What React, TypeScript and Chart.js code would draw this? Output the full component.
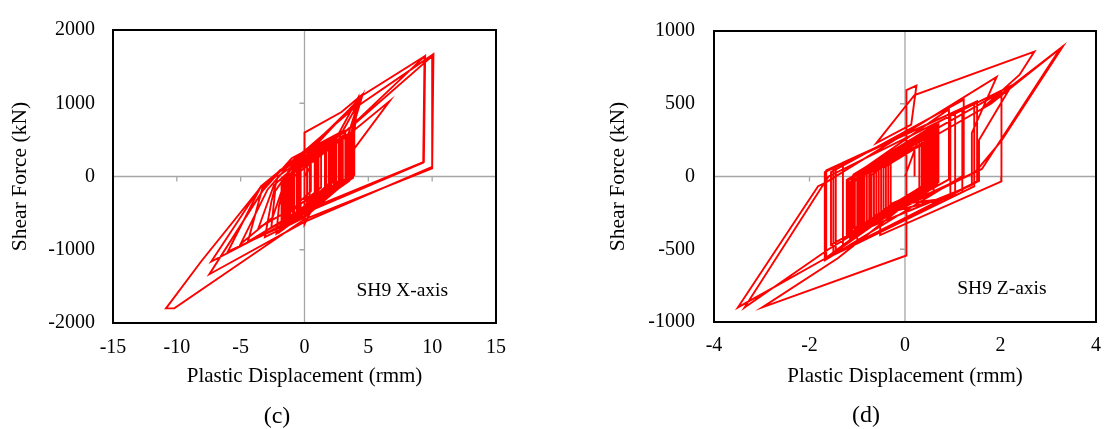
import React, { useEffect, useRef } from "react";
import { Chart, registerables } from "chart.js";

Chart.register(...registerables);

// ---------- tick labels ----------
const xTicksC = [-15, -10, -5, 0, 5, 10, 15];
const yTicksC = [-2000, -1000, 0, 1000, 2000];
const xTicksD = [-4, -2, 0, 2, 4];
const yTicksD = [-1000, -500, 0, 500, 1000];

// ---------- texts ----------
const xTitle = "Plastic Displacement (rmm)";
const yTitle = "Shear Force (kN)";
const labelC = "SH9 X-axis";
const labelD = "SH9 Z-axis";
const captionC = "(c)";
const captionD = "(d)";

// ---------- series: SH9 X-axis (plastic displacement mm, shear force kN) ----------
const sh9XAxis: [number, number][] = [
  [0, 0], [0.5, 150], [0.5, -200], [-0.6, -380], [-0.6, 80],
  [1.3, 300], [1.3, -150], [-1.0, -470], [-1.0, 60],
  [2.1, 430], [2.1, -120], [-0.3, -460], [-0.3, 220],
  [2.7, 500], [2.7, -60], [-1.4, -620], [-1.4, -20],
  [1.7, 380], [1.7, -230], [-1.7, -700], [-1.6, -100],
  [3.3, 560], [3.3, -20], [0.2, -480], [0.2, 280],
  [2.4, 470], [2.4, -160], [-0.8, -560], [-0.8, 120],
  [3.0, 540], [3.0, -100], [-1.2, -640], [-1.2, 30],
  [3.6, 600], [3.6, -30], [-1.8, -740], [-1.8, -60],
  [3.2, 580], [3.2, -90], [-1.1, -600], [-1.1, 20],
  [2.5, 520], [2.5, -140], [-1.6, -690], [-1.6, -40],
  [3.5, 590], [3.5, -50], [-0.4, -520], [-0.4, 190],
  [2.0, 480], [2.0, -200], [-1.3, -660], [-1.3, -10],
  [2.9, 540], [2.9, -60], [-0.9, -560], [-0.9, 90],
  [1.1, 380], [1.1, -270], [-1.7, -720], [-1.7, -80],
  [1.0, 330], [1.0, -300], [0, -650], [0, 600],
  [2.9, 880], [4.6, 1130], [4.45, 1100], [3.6, 560], [3.6, -40], [-1.96, -760], [-1.5, -300], [-1.3, 60],
  [2.6, 560], [4.2, 1074], [3.9, 600], [3.9, 20], [0, -560], [-3.1, -826], [-2.6, -350], [-2.1, 0],
  [1.9, 480], [1.9, -100], [-0.5, -480], [-0.5, 150], [2.3, 450], [2.3, -180], [-4.44, -893], [-3.3, -160], [-1.9, 90],
  [1.4, 420], [3.1, 520], [6.67, 1030], [3.9, 380], [3.6, -10], [0, -540], [-6.0, -1025], [-3.4, -130], [0, 320],
  [3.14, 600], [9.4, 1640], [9.3, 190], [0, -500], [-7.3, -1160], [-3.4, -130], [0, 350],
  [3.66, 900], [10.1, 1670], [10.0, 110], [0, -584], [-10.2, -1800], [-10.85, -1800], [-8.1, -1160], [-3.4, -141], [0, 350],
  [3.4, 640], [10.05, 1650], [10.0, 130], [0, -620], [-7.45, -1334], [-3.3, -200], [-1.0, 250],
  [3.0, 620], [4.5, 1090], [3.5, 500], [3.5, -60], [-0.9, -600], [-0.9, 100], [2.2, 520], [2.2, -80], [-1.5, -650], [-1.5, -50],
  [-2.5, -560], [-5.0, -920], [-2.9, -180], [-1.4, 120], [2.8, 560], [2.8, -120], [-2.2, -780], [-2.0, -400],
  [-1.2, 80], [0.5, 400], [4.3, 1050], [3.4, 560], [3.4, -40], [-0.6, -520], [-0.6, 160], [1.0, 450],
  [4.55, 1110], [9.45, 1645], [9.35, 200], [0, -470], [-2.6, -700], [-2.3, -200], [-0.5, 250], [4.0, 980],
  [3.8, 600], [3.8, -20], [0.9, -300], [0.9, 330],
  [3.7, 600], [3.7, -20], [0.4, -420], [0.4, 300], [1.6, 420], [1.6, -180], [-3.6, -700],
  [-2.4, -120], [0.8, 380], [0.8, -240], [0, -300], [0, 0],
];

// ---------- series: SH9 Z-axis ----------
const sh9ZAxis: [number, number][] = [
  [0, 0], [0.3, 270], [0.3, -110], [-0.4, -250], [-0.4, 130],
  [0.5, 270], [0.5, -90], [-0.6, -310], [-0.6, 50],
  [0.6, 330], [0.6, -40], [-0.8, -320], [-0.8, 50],
  [0.7, 340], [0.7, 0], [-0.5, -240], [-0.5, 100],
  [0.4, 280], [0.4, -100], [-1.0, -380], [-1.0, 0],
  [0.65, 340], [0.65, -20], [-0.9, -330], [-0.9, 30],
  [0.55, 330], [0.55, -60], [-1.1, -390], [-1.1, 0],
  [0.45, 240], [0.45, -110], [-0.7, -340], [-0.7, 10],
  [0.7, 360], [0.7, -20], [-1.2, -400], [-1.2, -20],
  [0.68, 336], [0.68, -54], [-1.1, -390], [-1.1, -10],
  [0.62, 334], [0.62, -46], [-0.95, -340], [-0.95, 20],
  [0.58, 326], [0.58, -34], [-1.18, -416], [-1.18, -26],
  [0.52, 314], [0.52, -76], [-0.75, -310], [-0.75, 40],
  [0.66, 322], [0.66, -28], [-1.05, -410], [-1.05, -30],
  [0.48, 276], [0.48, -104], [-0.65, -270], [-0.65, 70],
  [0.7, 340], [0.7, 0], [-1.12, -384], [-1.12, -4],
  [0.92, 463], [0.92, -20], [-1.55, -470], [-1.55, 30],
  [1.23, 528], [1.23, 8], [-1.68, -576], [-1.68, 30],
  [1.51, 517], [1.51, -34], [-1.0, -450], [-1.0, 20],
  [2.02, 582], [2.02, -34], [-0.52, -403], [-0.52, -300], [0.6, -100], [0.6, 300], [-0.3, 140], [-0.3, -190],
  [0.5, -80], [0.5, 290], [-0.6, 60], [-0.6, -300],
  [-1.68, -565], [-3.5, -900], [-1.82, -67], [-1.68, -45], [1.92, 684], [1.4, 300], [1.4, -60],
  [-0.88, -366], [-0.88, 4], [0.42, 264], [0.42, -106], [-1.22, -414], [-1.22, -24],
  [0.64, 348], [0.64, -42], [-0.55, -260], [-0.55, 80], [0.56, 302], [0.56, -38],
  [-0.85, -340], [-0.85, 30], [0.35, 270], [0.35, -100], [-1.05, -390], [-1.05, 10], [0.7, 360], [0.7, -40],
  [-1.6, -500], [-3.36, -900], [-1.7, -50], [-1.6, 0], [2.23, 625], [1.55, 250], [1.55, -30],
  [-1.45, -532], [-1.45, 72], [1.2, 470], [1.2, -108], [-1.3, -508], [-1.3, 95], [1.05, 447], [1.05, -132],
  [-0.6, -270], [-0.6, 80], [0.6, 320], [0.6, -30], [-1.15, -420], [-1.15, -40], [0.5, 290], [0.5, -90],
  [-0.98, -376], [-0.98, 4], [0.7, 340], [0.7, -40], [-0.45, -260], [-0.45, 60], [0.38, 226], [0.38, -94],
  [-1.4, -560], [-2.99, -900], [0.03, -543], [0.03, 593], [0.24, 625], [0.13, 357], [-0.6, 230], [0.2, 560],
  [2.71, 859], [2.4, 700], [1.6, 463], [3.31, 896], [2.02, 247], [1.47, 30], [-1.08, -356], [-1.08, 14],
  [0.66, 362], [0.66, -8], [-0.72, -334], [-0.72, 26], [1.8, 500], [3.25, 880], [1.61, 52], [-1.2, -400],
  [-1.2, -20], [0.55, 330], [0.55, -50], [-1.65, -564], [-1.65, 42], [1.45, 507], [1.45, -68],
  [-1.5, -540], [-1.5, 65], [0.95, 432], [0.95, -148], [-0.35, -200], [-0.35, 120], [0.62, 314], [0.62, -6],
  [-0.92, -354], [-0.92, 16], [0.46, 292], [0.46, -78], [-0.3, -190], [-0.3, 140], [0.6, 330], [0.6, -10],
  [-0.9, -350], [-0.9, 20], [0.3, 240], [0.3, -120], [-0.4, -250], [-0.4, 80], [0.2, 200], [0.2, 0],
];

const FONT = "'Liberation Serif', 'Times New Roman', serif";

type PanelSpec = {
  data: [number, number][];
  xTicks: number[];
  yTicks: number[];
  label: string;
  labelAt: [number, number];
  width: number;
  pad: { top: number; right: number };
  yWidth: number;
  yTickPad: number;
  yTitlePad: number;
  xHeight: number;
  xTickPad: number;
  xTitlePad: number;
};

const decorPlugin = {
  id: "panelDecor",
  beforeDatasetsDraw(chart: any) {
    const { ctx, chartArea: a } = chart;
    const xs = chart.scales.x;
    const ys = chart.scales.y;
    const x0 = xs.getPixelForValue(0);
    const y0 = ys.getPixelForValue(0);
    ctx.save();
    ctx.strokeStyle = "#a6a6a6";
    ctx.lineWidth = 1.3;
    ctx.beginPath();
    ctx.moveTo(x0, a.top);
    ctx.lineTo(x0, a.bottom);
    ctx.moveTo(a.left, y0);
    ctx.lineTo(a.right, y0);
    xs.ticks.forEach((t: any) => {
      if (t.value !== 0) {
        const px = xs.getPixelForValue(t.value);
        ctx.moveTo(px, y0);
        ctx.lineTo(px, y0 + 5);
      }
    });
    ys.ticks.forEach((t: any) => {
      if (t.value !== 0) {
        const py = ys.getPixelForValue(t.value);
        ctx.moveTo(x0 - 5, py);
        ctx.lineTo(x0, py);
      }
    });
    ctx.stroke();
    ctx.restore();
  },
  afterDatasetsDraw(chart: any, _args: any, opts: any) {
    const { ctx, chartArea: a } = chart;
    ctx.save();
    ctx.strokeStyle = "#000";
    ctx.lineWidth = 2;
    ctx.strokeRect(a.left, a.top, a.right - a.left, a.bottom - a.top);
    if (opts && opts.label) {
      ctx.fillStyle = "#000";
      ctx.font = `19.5px ${FONT}`;
      ctx.textAlign = "center";
      ctx.textBaseline = "middle";
      ctx.fillText(
        opts.label,
        chart.scales.x.getPixelForValue(opts.at[0]),
        chart.scales.y.getPixelForValue(opts.at[1])
      );
    }
    ctx.restore();
  },
};

function Panel({ spec }: { spec: PanelSpec }) {
  const ref = useRef<HTMLCanvasElement>(null);
  useEffect(() => {
    if (!ref.current) return;
    const s = spec;
    const chart = new Chart(ref.current, {
      type: "scatter",
      data: {
        datasets: [
          {
            data: s.data.map(([x, y]) => ({ x, y })),
            showLine: true,
            borderColor: "#ff0000",
            backgroundColor: "#ff0000",
            borderWidth: 1.9,
            pointRadius: 0,
            tension: 0,
          },
        ],
      },
      options: {
        responsive: false,
        animation: false,
        devicePixelRatio: 1,
        layout: { padding: { left: 0, right: s.pad.right, top: s.pad.top, bottom: 0 } },
        plugins: {
          legend: { display: false },
          tooltip: { enabled: false },
          panelDecor: { label: s.label, at: s.labelAt },
        } as any,
        scales: {
          x: {
            type: "linear",
            min: s.xTicks[0],
            max: s.xTicks[s.xTicks.length - 1],
            afterBuildTicks: (sc: any) => {
              sc.ticks = s.xTicks.map((v) => ({ value: v }));
            },
            afterFit: (sc: any) => {
              sc.height = s.xHeight;
            },
            grid: { display: false, drawTicks: false },
            border: { display: false },
            ticks: {
              padding: s.xTickPad,
              color: "#000",
              font: { family: FONT, size: 20 },
              maxRotation: 0,
              autoSkip: false,
              callback: (v: any) => String(v),
            },
            title: {
              display: true,
              text: xTitle,
              color: "#000",
              font: { family: FONT, size: 21 },
              padding: { top: 0, bottom: s.xTitlePad },
            },
          },
          y: {
            type: "linear",
            min: s.yTicks[0],
            max: s.yTicks[s.yTicks.length - 1],
            afterBuildTicks: (sc: any) => {
              sc.ticks = s.yTicks.map((v) => ({ value: v }));
            },
            afterFit: (sc: any) => {
              sc.width = s.yWidth;
            },
            grid: { display: false, drawTicks: false },
            border: { display: false },
            ticks: {
              padding: s.yTickPad,
              color: "#000",
              font: { family: FONT, size: 20 },
              autoSkip: false,
              callback: (v: any) => String(v),
            },
            title: {
              display: true,
              text: yTitle,
              color: "#000",
              font: { family: FONT, size: 21.5 },
              padding: { top: s.yTitlePad, bottom: 0 },
            },
          },
        },
      },
      plugins: [decorPlugin],
    } as any);
    return () => chart.destroy();
  }, [spec]);
  return <canvas ref={ref} width={spec.width} height={429} style={{ display: "block" }} />;
}

const specC: PanelSpec = {
  data: sh9XAxis,
  xTicks: xTicksC,
  yTicks: yTicksC,
  label: labelC,
  labelAt: [7.66, -1560],
  width: 556,
  pad: { top: 21, right: 60 },
  yWidth: 113,
  yTickPad: 18,
  yTitlePad: 7,
  xHeight: 106,
  xTickPad: 13,
  xTitlePad: 40,
};

const specD: PanelSpec = {
  data: sh9ZAxis,
  xTicks: xTicksD,
  yTicks: yTicksD,
  label: labelD,
  labelAt: [2.03, -770],
  width: 557,
  pad: { top: 14, right: 10 },
  yWidth: 158,
  yTickPad: 19,
  yTitlePad: 49,
  xHeight: 107,
  xTickPad: 12,
  xTitlePad: 40,
};

const captionStyle: React.CSSProperties = {
  position: "absolute",
  fontFamily: FONT,
  fontSize: 24,
  lineHeight: "26px",
  color: "#000",
  transform: "translate(-50%, -50%)",
  whiteSpace: "nowrap",
};

export default function App() {
  return (
    <div style={{ position: "absolute", left: 0, top: 0, width: 1113, height: 429, background: "#fff" }}>
      <div style={{ position: "absolute", left: 0, top: 0 }}>
        <Panel spec={specC} />
      </div>
      <div style={{ position: "absolute", left: 556, top: 0 }}>
        <Panel spec={specD} />
      </div>
      <div style={{ ...captionStyle, left: 277, top: 415 }}>{captionC}</div>
      <div style={{ ...captionStyle, left: 866, top: 414 }}>{captionD}</div>
    </div>
  );
}
